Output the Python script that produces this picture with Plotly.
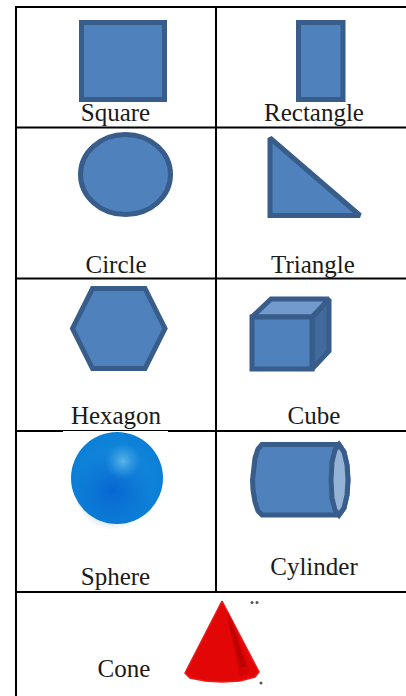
import plotly.graph_objects as go

BLUE = "#4f81bd"
EDGE = "#385d8a"

grid_x = [16, 16, None, 216, 216, None, 16, 406, None, 16, 406, None, 16, 406, None, 16, 63, None, 168, 406, None, 16, 406]
grid_y = [6, 696, None, 6, 592, None, 7, 7, None, 127.5, 127.5, None, 278.5, 278.5, None, 431, 431, None, 431, 431, None, 592, 592]
grid_thin_x = [63, 168]
grid_thin_y = [430.5, 430.5]

labels = ["Square", "Rectangle", "Circle", "Triangle", "Hexagon", "Cube", "Sphere", "Cylinder", "Cone"]
label_x = [115.5, 314, 116, 313, 116, 314, 115.5, 314, 124]
label_y = [114.5, 114.5, 266.5, 266.5, 417.5, 417.5, 578.5, 568.5, 670.5]

# outlines repeat their first corner at the end so the joins close cleanly
square_x = [81.5, 164.5, 164.5, 81.5, 81.5, 164.5]
square_y = [22.5, 22.5, 99.5, 99.5, 22.5, 22.5]
rect_x = [298.5, 343, 343, 298.5, 298.5, 343]
rect_y = [22.5, 22.5, 99.5, 99.5, 22.5, 22.5]
circle_box = [80.5, 134.5, 170.5, 214.5]
tri_x = [270, 270, 360, 270, 270]
tri_y = [138, 215.5, 215.5, 138, 215.5]
hex_x = [72.5, 92.5, 145, 165, 145, 92.5, 72.5, 92.5]
hex_y = [328.5, 288.5, 288.5, 328.5, 368.5, 368.5, 328.5, 288.5]

cube_front_x = [252, 312, 312, 252, 252, 312]
cube_front_y = [317, 317, 369, 369, 317, 317]
cube_top_x = [252, 271, 329, 312, 252, 271]
cube_top_y = [317, 299, 299, 317, 317, 299]
cube_side_x = [312, 329, 329, 312, 312, 329]
cube_side_y = [317, 299, 351, 369, 317, 299]

cyl_x = [262, 258, 255, 253, 252.5, 253, 255, 258, 262, 339, 344, 347, 348, 347, 344, 339, 262, 258]
cyl_y = [444.5, 449, 458, 470, 480, 490, 502, 511, 515, 515, 508, 495, 480, 465, 452, 444.5, 444.5, 449]
cyl_face_x = [339, 335, 332, 331, 332, 335, 339, 344, 347, 348, 347, 344, 339, 335]
cyl_face_y = [444.5, 450, 462, 480, 498, 510, 515, 508, 495, 480, 465, 452, 444.5, 450]

sphere_xy = [117, 478]
sphere_shade_xy = [113, 490]
sphere_glow_xy = [123, 461]

cone_x = [222, 259, 255, 240, 222, 205, 190, 185, 222]
cone_y = [601, 672, 677, 681, 682, 681, 678, 673, 601]
cone_shade_x = [226, 233, 250, 240, 232, 226]
cone_shade_y = [610, 622, 672, 676, 640, 610]
cone_dark_x = [228, 233, 246, 241, 234, 228]
cone_dark_y = [620, 628, 666, 668, 642, 620]
speck_x = [252, 257, 261]
speck_y = [602.5, 602.5, 683]

fig = go.Figure()


def poly(x, y, fill, line=EDGE, width=5):
    fig.add_trace(go.Scatter(x=x, y=y, mode="lines", fill="toself", fillcolor=fill,
                             line=dict(color=line, width=width), hoverinfo="skip"))


fig.add_trace(go.Scatter(x=grid_x, y=grid_y, mode="lines", line=dict(color="black", width=2), hoverinfo="skip"))
fig.add_trace(go.Scatter(x=grid_thin_x, y=grid_thin_y, mode="lines", line=dict(color="black", width=1), hoverinfo="skip"))

poly(square_x, square_y, BLUE)
poly(rect_x, rect_y, BLUE)
poly(tri_x, tri_y, BLUE)
poly(hex_x, hex_y, BLUE)
poly(cube_side_x, cube_side_y, "#426a9c")
poly(cube_top_x, cube_top_y, "#729aca")
poly(cube_front_x, cube_front_y, BLUE)
poly(cyl_x, cyl_y, BLUE)
poly(cyl_face_x, cyl_face_y, "#95b3d7")

# sphere: base ball, soft shadow low down, small highlight up and to the right
# (in a radial marker gradient the gradient colour is the middle)
fig.add_trace(go.Scatter(x=[sphere_xy[0]], y=[sphere_xy[1]], mode="markers", hoverinfo="skip",
                         marker=dict(size=92, color="#0b7fd6", line=dict(width=0),
                                     gradient=dict(type="radial", color="#1a8fdf"))))
fig.add_trace(go.Scatter(x=[sphere_shade_xy[0]], y=[sphere_shade_xy[1]], mode="markers", hoverinfo="skip",
                         marker=dict(size=80, color="rgba(0,90,205,0)", line=dict(width=0),
                                     gradient=dict(type="radial", color="rgba(0,90,205,0.75)"))))
fig.add_trace(go.Scatter(x=[sphere_glow_xy[0]], y=[sphere_glow_xy[1]], mode="markers", hoverinfo="skip",
                         marker=dict(size=36, color="rgba(60,160,230,0)", line=dict(width=0),
                                     gradient=dict(type="radial", color="#5cb6e8"))))

poly(cone_x, cone_y, "#e20606", line="#ea1c1c", width=1.5)
poly(cone_shade_x, cone_shade_y, "#d20404", line="rgba(0,0,0,0)", width=0)
poly(cone_dark_x, cone_dark_y, "#bc0202", line="rgba(0,0,0,0)", width=0)
fig.add_trace(go.Scatter(x=speck_x, y=speck_y, mode="markers", hoverinfo="skip",
                         marker=dict(size=3, color="#555555", line=dict(width=0))))

fig.add_trace(go.Scatter(x=label_x, y=label_y, text=labels, mode="text", textposition="middle center",
                         textfont=dict(family="Liberation Serif", size=25, color="#1a1a1a"), hoverinfo="skip"))

fig.update_layout(
    width=406, height=696, margin=dict(l=0, r=0, t=0, b=0),
    paper_bgcolor="white", plot_bgcolor="white", showlegend=False,
    xaxis=dict(range=[0, 406], visible=False, fixedrange=True),
    yaxis=dict(range=[696, 0], visible=False, fixedrange=True),
    shapes=[dict(type="circle", xref="x", yref="y", x0=circle_box[0], y0=circle_box[1],
                 x1=circle_box[2], y1=circle_box[3], fillcolor=BLUE, line=dict(color=EDGE, width=5))],
)

fig.write_html("out.html", config=dict(displayModeBar=False),
               post_script="document.body.style.margin='0';document.body.style.overflow='hidden';")
